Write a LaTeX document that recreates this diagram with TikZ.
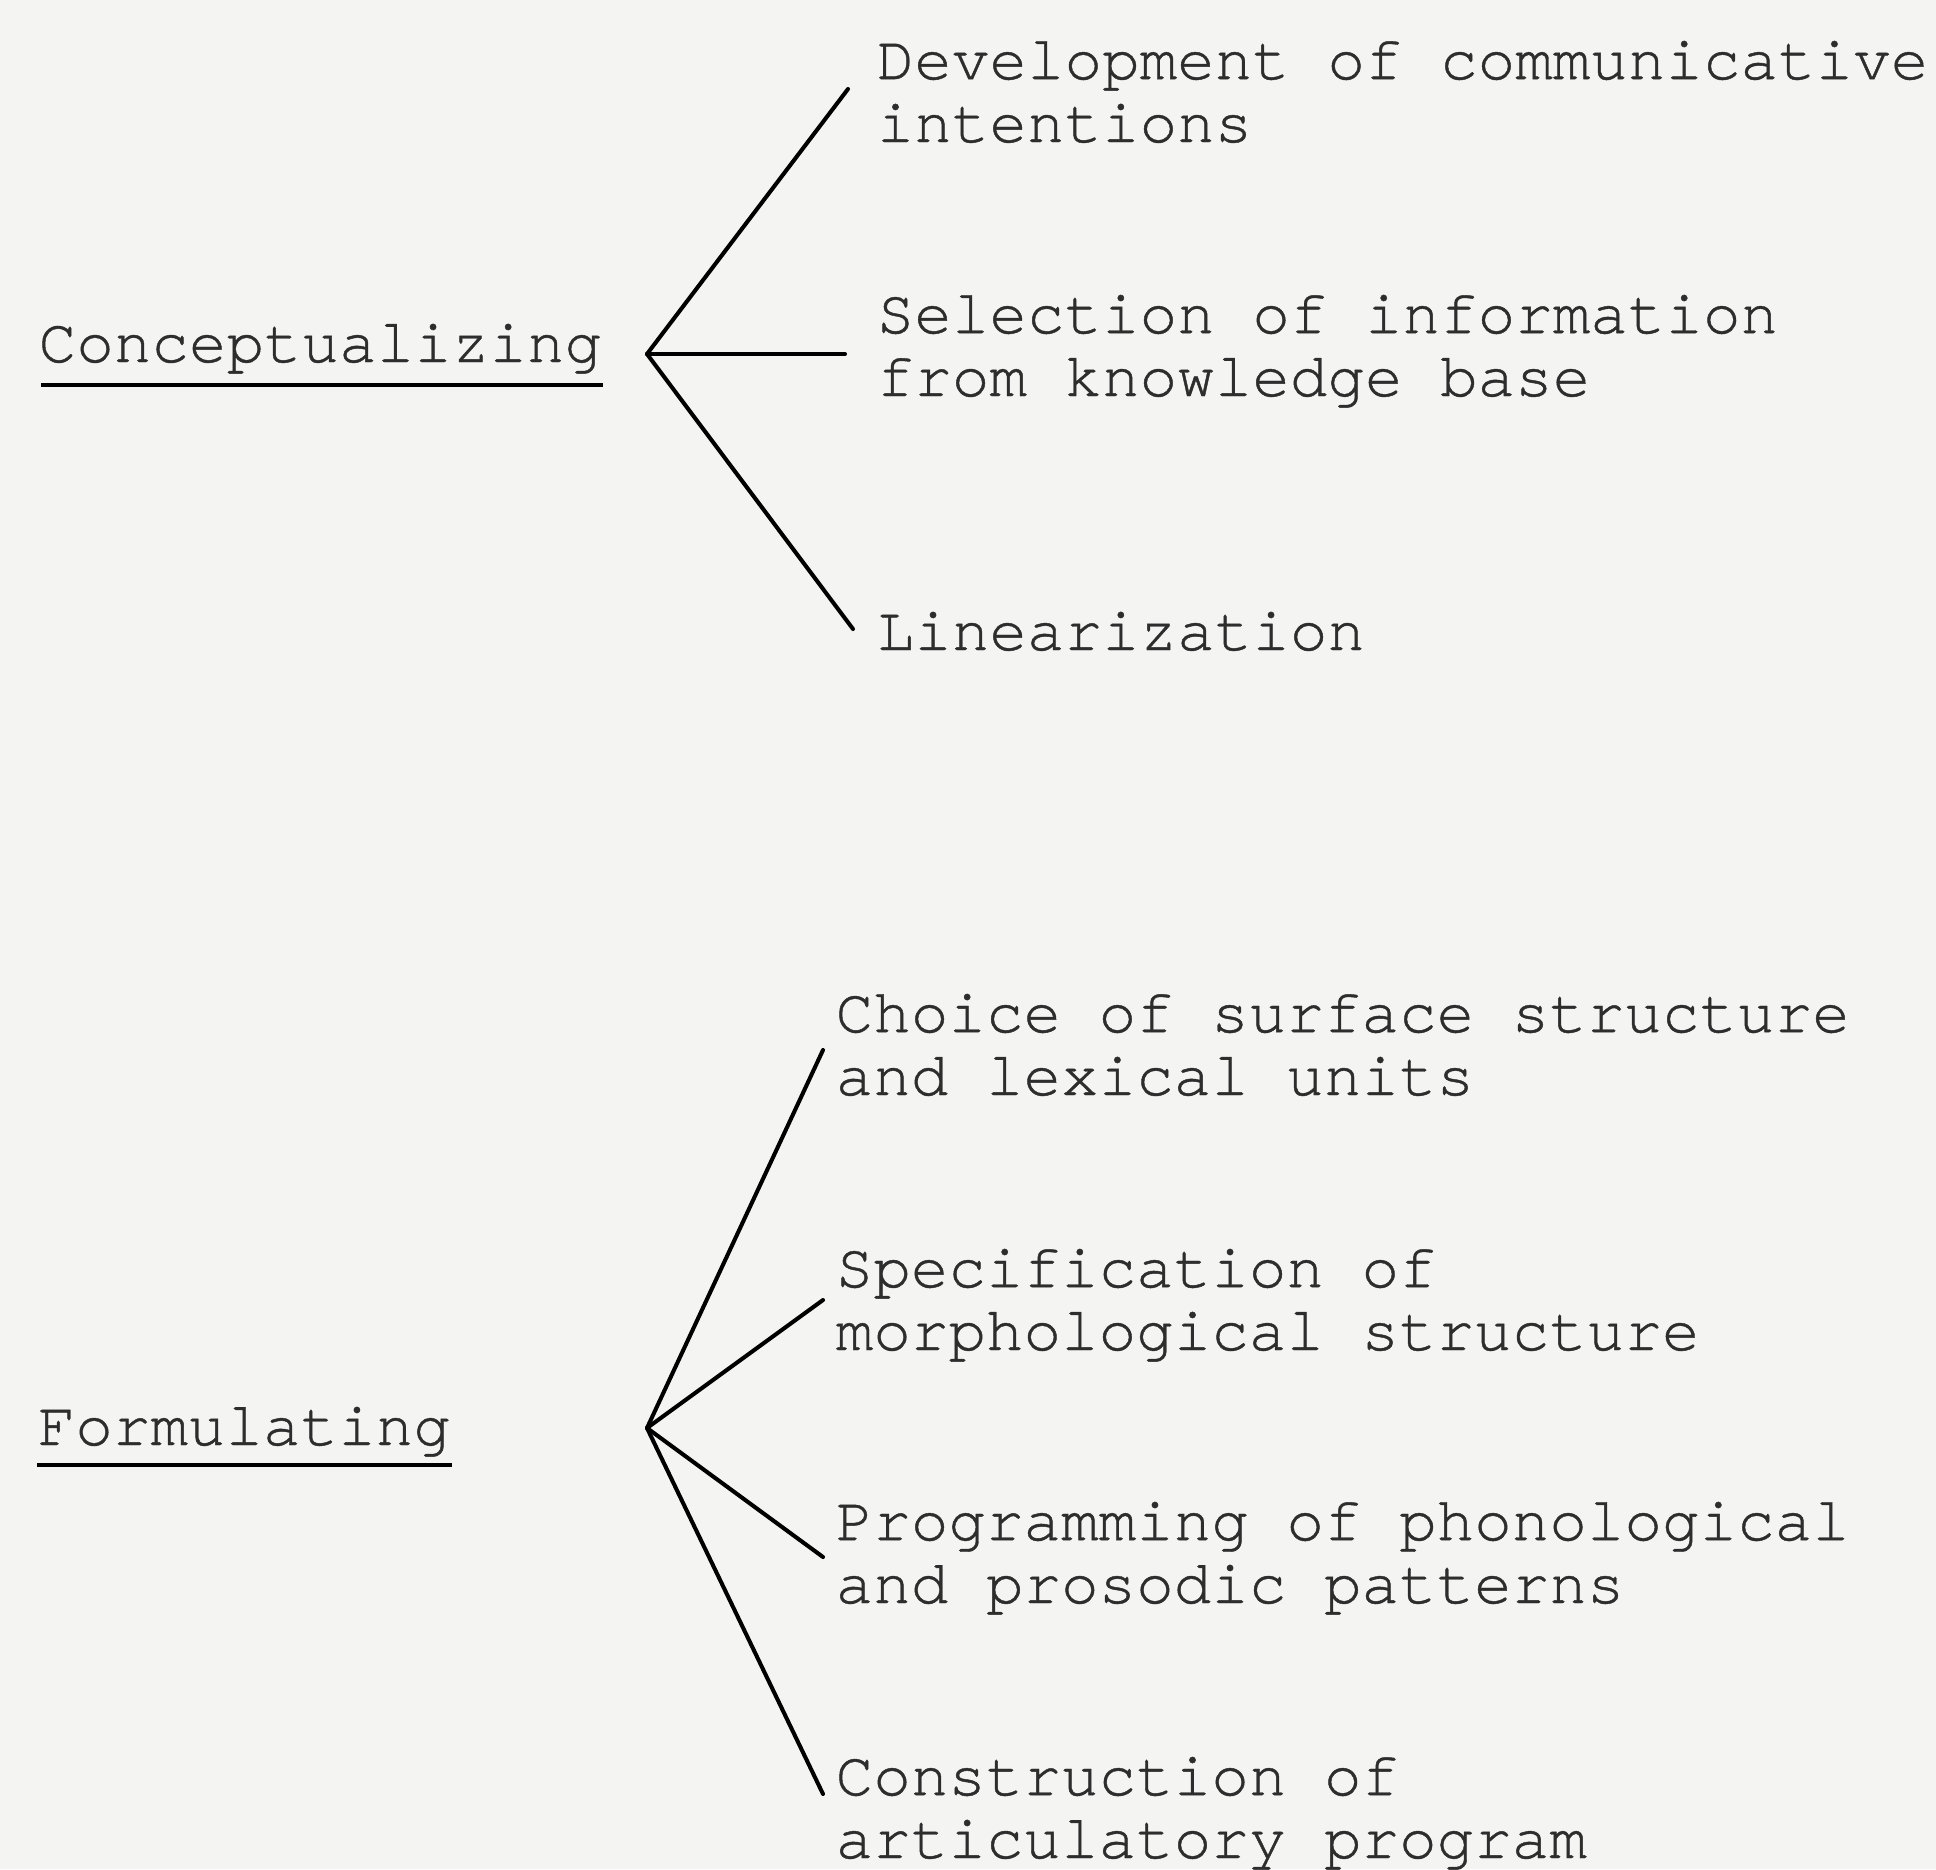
\documentclass[tikz,border=0pt]{standalone}
\usepackage{fontspec}
\setmonofont{TeX Gyre Cursor}[FakeBold=0.7, Ligatures={NoCommon}]
\usepackage{xcolor}
\usetikzlibrary{positioning}
\usetikzlibrary{calc}

\definecolor{paper}{RGB}{244,244,243}
\definecolor{ink}{RGB}{45,45,45}

\tikzset{
	stage/.style={font=\ttfamily\fontsize{17.8pt}{17.9pt}\selectfont, text=ink, inner sep=0pt, anchor=base west},
	task/.style={stage, align=left},
	branch/.style={line width=1.15pt, line cap=round},
	rule/.style={line width=1.2pt}
}

\begin{document}
\begin{tikzpicture}[x=0.01cm, y=-0.01cm]
					\fill[paper] (0,0) rectangle (1936,1869);
					\useasboundingbox (0,0) rectangle (1936,1869);
					
					%conceptualizing
					\node[stage] (concept) at (38,362) {Conceptualizing};
					\draw[rule] ($(concept.base west)+(3,23)$) -- ($(concept.base east)+(0,23)$);
					\coordinate (cb) at (647,354);
					\node[task] (dev) at (876,142) {Development of communicative\\intentions};
					\node[task] (sel) at (876,396) {Selection of information\\from knowledge base};
					\node[task] (lin) at (876,650) {Linearization};
					
					% add branches
					\draw[branch] (cb) -- ($(dev.base west)+(-28,-53)$);
					\draw[branch] (cb) -- ($(sel.base west)+(-31,-42)$);
					\draw[branch] (cb) -- ($(lin.base west)+(-23,-21)$);
					
					%formulating
					\node[stage] (form) at (37,1445) {Formulating};
					\draw[rule] ($(form.base west)+(0,20)$) -- ($(form.base east)+(0,20)$);
					\coordinate (fb) at (647,1428);
					\node[task] (choice) at (835,1095) {Choice of surface structure\\and lexical units};
					\node[task] (spec) at (835,1350) {Specification of\\morphological structure};
					\node[task] (prog) at (835,1603) {Programming of phonological\\and prosodic patterns};
					\node[task] (cons) at (835,1858) {Construction of\\articulatory program};
					
					% add branches
					\draw[branch] (fb) -- ($(choice.base west)+(-12,-45)$);
					\draw[branch] (fb) -- ($(spec.base west)+(-12,-50)$);
					\draw[branch] (fb) -- ($(prog.base west)+(-12,-46)$);
					\draw[branch] (fb) -- ($(cons.base west)+(-12,-64)$);
				\end{tikzpicture}
\end{document}
